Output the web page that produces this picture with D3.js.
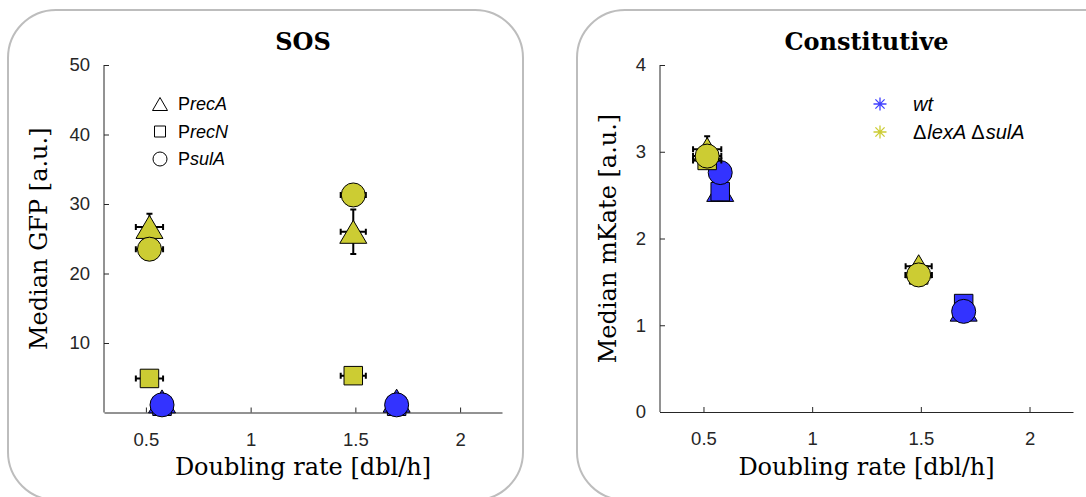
<!DOCTYPE html>
<html>
<head>
<meta charset="utf-8">
<script src="https://cdn.jsdelivr.net/npm/d3@7"></script>
<style>
html,body{margin:0;padding:0;background:#fff;}
svg{display:block;}
</style>
</head>
<body>
<svg id="chart" width="1086" height="497"></svg>
<script>
// ---------------- DATA ----------------
const reporters = ["recA", "recN", "sulA"];
const strains = ["wt", "ΔlexA ΔsulA"];
const xTicks = [0.5, 1, 1.5, 2];
const xTickLabels = ["0.5", "1", "1.5", "2"];
const sosYTicks = [10, 20, 30, 40, 50];
const conYTicks = [0, 1, 2, 3, 4];

// doubling rates (slow, fast condition)
const rateWt = [0.577, 1.697];
const rateMut = [0.517, 1.49];
const rateErrWt = [0.03, 0.03];
const rateErrMut = [0.065, 0.06];

// SOS panel (median GFP)
const sosWtRecA = [1.6, 1.7];
const sosWtRecN = [0.9, 0.9];
const sosWtSulA = [1.1, 1.1];
const sosMutRecA = [26.7, 26.0];
const sosMutRecN = [4.9, 5.3];
const sosMutSulA = [23.5, 31.3];
const sosErrWtRecA = [0.2, 0.2];
const sosErrWtRecN = [0.1, 0.1];
const sosErrWtSulA = [0.1, 0.1];
const sosErrMutRecA = [1.9, 3.2];
const sosErrMutRecN = [0.3, 0.3];
const sosErrMutSulA = [1.5, 0.8];

// Constitutive panel (median mKate)
const conWtRecA = [2.56, 1.18];
const conWtRecN = [2.54, 1.25];
const conWtSulA = [2.76, 1.16];
const conMutRecA = [3.03, 1.68];
const conMutRecN = [2.9, 1.58];
const conMutSulA = [2.95, 1.58];
const conErrWtRecA = [0.1, 0.05];
const conErrWtRecN = [0.1, 0.05];
const conErrWtSulA = [0.08, 0.05];
const conErrMutRecA = [0.15, 0.05];
const conErrMutRecN = [0.08, 0.05];
const conErrMutSulA = [0.08, 0.05];

// ---------------- STYLE ----------------
const colWt = "#3333ff";
const colMut = "#cccc33";
const axisCol = "#262626";
const sansFont = "'Liberation Sans', Arial, Helvetica, sans-serif";
const serifFont = "'DejaVu Serif', 'Liberation Serif', serif";

const svg = d3.select("#chart");

function markerPath(shape, big) {
  if (shape === "recA") {
    const w = big ? 27 : 15, h = big ? 23 : 13;
    return `M0,${-h/2} L${w/2},${h/2} L${-w/2},${h/2} Z`;
  } else if (shape === "recN") {
    const s = big ? 18.5 : 11;
    return `M${-s/2},${-s/2} H${s/2} V${s/2} H${-s/2} Z`;
  } else {
    const r = big ? 12 : 7;
    return `M${r},0 A${r},${r} 0 1,1 ${-r},0 A${r},${r} 0 1,1 ${r},0 Z`;
  }
}

function drawPanel(cfg) {
  // panel frame
  svg.append("rect")
    .attr("x", cfg.frame[0]).attr("y", cfg.frame[1])
    .attr("width", cfg.frame[2]).attr("height", cfg.frame[3])
    .attr("rx", 48).attr("ry", 48)
    .attr("fill", "none").attr("stroke", "#bdbdbd").attr("stroke-width", 2);

  const x = d3.scaleLinear().domain([0.3, 2.2]).range([cfg.left, cfg.right]);
  const y = d3.scaleLinear().domain(cfg.yDomain).range([cfg.bottom, cfg.top]);

  const g = svg.append("g");

  // x axis
  const xAxis = d3.axisBottom(x).tickValues(xTicks)
    .tickFormat((d, i) => xTickLabels[i]).tickSizeInner(-5).tickSizeOuter(0).tickPadding(20);
  const gx = g.append("g").attr("transform", `translate(0,${cfg.bottom})`).call(xAxis);
  // y axis
  const yAxis = d3.axisLeft(y).tickValues(cfg.yTicks).tickFormat(d3.format("d"))
    .tickSizeInner(-5).tickSizeOuter(0).tickPadding(14);
  const gy = g.append("g").attr("transform", `translate(${cfg.left},0)`).call(yAxis);
  [gx, gy].forEach(a => {
    a.select(".domain").attr("stroke", axisCol).attr("stroke-width", 1);
    a.selectAll(".tick line").attr("stroke", axisCol).attr("stroke-width", 1);
    a.selectAll(".tick text").attr("fill", axisCol)
      .style("font-family", sansFont).style("font-size", "18.5px");
  });
  gy.select(".domain").attr("d", `M0,${cfg.bottom}V${cfg.top}`);

  // title
  svg.append("text").attr("x", (cfg.left + cfg.right) / 2).attr("y", 50)
    .attr("text-anchor", "middle").style("font-family", serifFont)
    .style("font-weight", "bold").style("font-size", "24px").attr("fill", "#000")
    .text(cfg.title);
  // x label
  svg.append("text").attr("x", (cfg.left + cfg.right) / 2).attr("y", 475)
    .attr("text-anchor", "middle").style("font-family", serifFont)
    .style("font-size", "24px").attr("fill", "#000")
    .text("Doubling rate [dbl/h]");
  // y label
  svg.append("text")
    .attr("transform", `translate(${cfg.yLabelX},${(cfg.top + cfg.bottom) / 2}) rotate(-90)`)
    .attr("text-anchor", "middle").attr("dy", "0.35em").style("font-family", serifFont)
    .style("font-size", "24px").attr("fill", "#000")
    .text(cfg.yLabel);

  // series
  const cap = 3;
  cfg.series.forEach(s => {
    const sg = g.append("g");
    s.vals.forEach((v, i) => {
      const cx = x(s.rate[i]), cy = y(v);
      const ex0 = x(s.rate[i] - s.rateErr[i]), ex1 = x(s.rate[i] + s.rateErr[i]);
      const ey0 = y(v - s.err[i]), ey1 = y(v + s.err[i]);
      const eb = sg.append("g").attr("stroke", "#000").attr("stroke-width", 2).attr("fill", "none");
      eb.append("path").attr("d",
        `M${cx},${ey0}V${ey1}M${cx - cap},${ey0}H${cx + cap}M${cx - cap},${ey1}H${cx + cap}` +
        `M${ex0},${cy}H${ex1}M${ex0},${cy - cap}V${cy + cap}M${ex1},${cy - cap}V${cy + cap}`);
      sg.append("path").attr("d", markerPath(s.shape, true))
        .attr("transform", `translate(${cx},${cy})`)
        .attr("fill", s.color).attr("stroke", "#000").attr("stroke-width", 1);
    });
  });
  return { x, y };
}

// ---------- SOS panel ----------
drawPanel({
  frame: [8, 10, 515, 490],
  left: 104, right: 502, top: 65, bottom: 412.5,
  yDomain: [0, 50], yTicks: sosYTicks,
  title: "SOS", yLabel: "Median GFP [a.u.]", yLabelX: 39,
  series: [
    { shape: "recA", color: colWt, vals: sosWtRecA, err: sosErrWtRecA, rate: rateWt, rateErr: rateErrWt },
    { shape: "recN", color: colWt, vals: sosWtRecN, err: sosErrWtRecN, rate: rateWt, rateErr: rateErrWt },
    { shape: "sulA", color: colWt, vals: sosWtSulA, err: sosErrWtSulA, rate: rateWt, rateErr: rateErrWt },
    { shape: "recA", color: colMut, vals: sosMutRecA, err: sosErrMutRecA, rate: rateMut, rateErr: rateErrMut },
    { shape: "recN", color: colMut, vals: sosMutRecN, err: sosErrMutRecN, rate: rateMut, rateErr: rateErrMut },
    { shape: "sulA", color: colMut, vals: sosMutSulA, err: sosErrMutSulA, rate: rateMut, rateErr: rateErrMut }
  ]
});

// ---------- Constitutive panel ----------
drawPanel({
  frame: [577, 10, 560, 490],
  left: 660, right: 1073, top: 65, bottom: 412,
  yDomain: [0, 4], yTicks: conYTicks,
  title: "Constitutive", yLabel: "Median mKate [a.u.]", yLabelX: 608,
  series: [
    { shape: "recA", color: colWt, vals: conWtRecA, err: conErrWtRecA, rate: rateWt, rateErr: rateErrWt },
    { shape: "recN", color: colWt, vals: conWtRecN, err: conErrWtRecN, rate: rateWt, rateErr: rateErrWt },
    { shape: "sulA", color: colWt, vals: conWtSulA, err: conErrWtSulA, rate: rateWt, rateErr: rateErrWt },
    { shape: "recA", color: colMut, vals: conMutRecA, err: conErrMutRecA, rate: rateMut, rateErr: rateErrMut },
    { shape: "recN", color: colMut, vals: conMutRecN, err: conErrMutRecN, rate: rateMut, rateErr: rateErrMut },
    { shape: "sulA", color: colMut, vals: conMutSulA, err: conErrMutSulA, rate: rateMut, rateErr: rateErrMut }
  ]
});

// ---------- Legends ----------
const legRep = svg.append("g").attr("transform", "translate(160,104)");
reporters.forEach((r, i) => {
  const row = legRep.append("g").attr("transform", `translate(0,${i * 27.5})`);
  row.append("path").attr("d", markerPath(r, false))
    .attr("fill", "none").attr("stroke", "#000").attr("stroke-width", 1);
  const t = row.append("text").attr("x", 18).attr("dy", "0.36em")
    .style("font-family", sansFont).style("font-size", "18px").attr("fill", "#000");
  t.append("tspan").text("P");
  t.append("tspan").style("font-style", "italic").text(r);
});

function asterisk(gSel, color) {
  const r = 6.5;
  let d = "";
  for (let k = 0; k < 4; k++) {
    const a = k * Math.PI / 4;
    d += `M${-r * Math.cos(a)},${-r * Math.sin(a)}L${r * Math.cos(a)},${r * Math.sin(a)}`;
  }
  gSel.append("path").attr("d", d).attr("stroke", color).attr("stroke-width", 1.3).attr("fill", "none");
}
const legStr = svg.append("g").attr("transform", "translate(880,104)");
const strainColors = [ "#4040ff", "#cccc33" ];
strains.forEach((s, i) => {
  const row = legStr.append("g").attr("transform", `translate(0,${i * 28})`);
  asterisk(row, strainColors[i]);
  const t = row.append("text").attr("x", 33).attr("dy", "0.36em")
    .style("font-family", sansFont).style("font-size", "20px").attr("fill", "#000");
  if (i === 0) {
    t.append("tspan").style("font-style", "italic").text(s);
  } else {
    const parts = s.split(" ");
    parts.forEach((p, j) => {
      t.append("tspan").attr("dx", j > 0 ? 5 : 0).text("Δ");
      t.append("tspan").attr("dx", 1).style("font-style", "italic").text(p.slice(1));
    });
  }
});
</script>
</body>
</html>
